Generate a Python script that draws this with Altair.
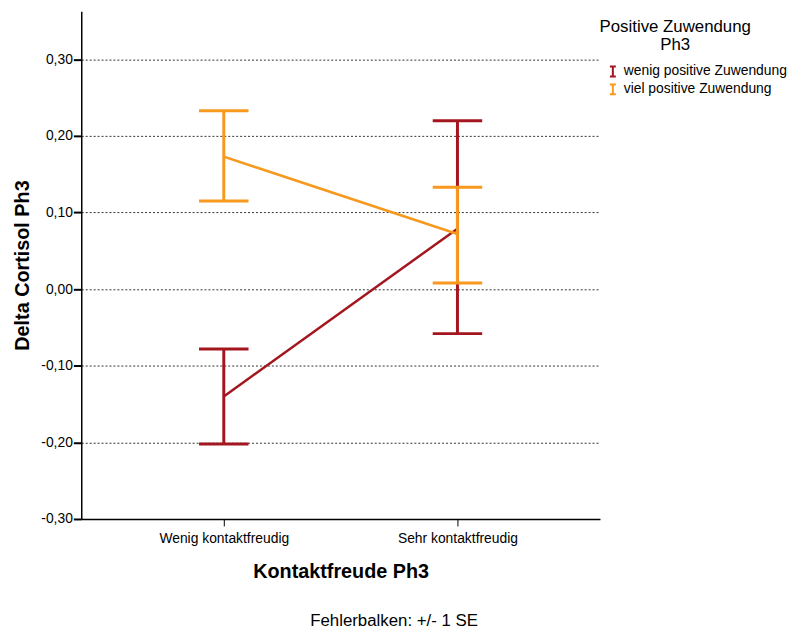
import altair as alt
import pandas as pd

categories = ["Wenig kontaktfreudig", "Sehr kontaktfreudig"]
groups = ["wenig positive Zuwendung", "viel positive Zuwendung"]
mean_wenig = [-0.140, 0.079]
lower_wenig = [-0.202, -0.058]
upper_wenig = [-0.078, 0.220]
mean_viel = [0.173, 0.072]
lower_viel = [0.115, 0.008]
upper_viel = [0.233, 0.133]
y_ticks = [-0.3, -0.2, -0.1, 0.0, 0.1, 0.2, 0.3]
colors = ["#A3161F", "#F7991D"]
legend_title = ["Positive Zuwendung", "Ph3"]

rows = []
for g, m, lo, up in [(groups[0], mean_wenig, lower_wenig, upper_wenig),
                     (groups[1], mean_viel, lower_viel, upper_viel)]:
    for i, c in enumerate(categories):
        rows.append({"Kontaktfreude": c, "Gruppe": g, "mean": m[i], "lower": lo[i], "upper": up[i],
                     "order": groups.index(g)})
df = pd.DataFrame(rows)

FONT = "Liberation Sans"

x_enc = alt.X("Kontaktfreude:N", sort=categories,
              scale=alt.Scale(type="point", padding=0.61),
              axis=alt.Axis(title="Kontaktfreude Ph3", labelAngle=0, labelFontSize=14,
                            labelPadding=6, tickSize=7, tickWidth=1, tickColor="black",
                            domainColor="black", domainWidth=1.5, titleFontSize=20,
                            titleFontWeight="bold", titlePadding=16, grid=False,
                            labelColor="black", titleColor="black"))

y_scale = alt.Scale(domain=[-0.3, 0.363], nice=False, zero=False)
y_axis = alt.Axis(title="Delta Cortisol Ph3", values=y_ticks,
                  labelExpr="replace(replace(format(datum.value, '.2f'), '.', ','), '\u2212', '-')",
                  labelFontSize=14, labelPadding=1, tickSize=8, tickWidth=2, tickColor="black",
                  domainColor="black", domainWidth=1.5, titleFontSize=20, titleFontWeight="bold",
                  titlePadding=8, grid=True, gridDash=[2, 2], gridColor="#333333", gridWidth=1,
                  labelColor="black", titleColor="black")

color_scale = alt.Scale(domain=groups, range=colors)

base = alt.Chart(df)

lines = base.mark_line(strokeWidth=2.5).encode(
    x=x_enc,
    y=alt.Y("mean:Q", scale=y_scale, axis=y_axis),
    color=alt.Color("Gruppe:N", scale=color_scale, sort=groups,
                    legend=alt.Legend(title=None, orient="none",
                                      legendX=530, legendY=54,
                                      labelFontSize=14, labelColor="black",
                                      labelLimit=300, rowPadding=0,
                                      symbolType="M-0.6,-1H0.6M0,-1V1M-0.6,1H0.6",
                                      symbolSize=100, symbolStrokeWidth=2)),
    order="order:Q",
)

rules = base.mark_rule(strokeWidth=3, opacity=1).encode(
    x=alt.X("Kontaktfreude:N", sort=categories),
    y=alt.Y("lower:Q", scale=y_scale),
    y2="upper:Q",
    color=alt.Color("Gruppe:N", scale=color_scale, legend=None),
)

caps_low = base.mark_tick(size=50, thickness=3, opacity=1).encode(
    x=alt.X("Kontaktfreude:N", sort=categories),
    y=alt.Y("lower:Q", scale=y_scale),
    color=alt.Color("Gruppe:N", scale=color_scale, legend=None),
)
caps_up = base.mark_tick(size=50, thickness=3, opacity=1).encode(
    x=alt.X("Kontaktfreude:N", sort=categories),
    y=alt.Y("upper:Q", scale=y_scale),
    color=alt.Color("Gruppe:N", scale=color_scale, legend=None),
)

legend_title_mark = alt.Chart(pd.DataFrame({"t": [0]})).mark_text(
    fontSize=17, align="center", baseline="top", lineHeight=18, color="black", font=FONT
).encode(
    x=alt.value(600), y=alt.value(8), text=alt.value(legend_title)
)

chart = alt.layer(lines, rules, caps_low, caps_up, legend_title_mark).properties(
    width=524, height=513,
    autosize=alt.AutoSizeParams(type="none"),
    padding={"left": 74, "top": 0, "right": 197, "bottom": 111},
    title=alt.TitleParams("Fehlerbalken: +/- 1 SE", orient="bottom", anchor="middle",
                          fontSize=17, fontWeight="normal", dx=54, offset=32, color="black"),
).configure(font=FONT).configure_view(stroke=None)

chart.save("out.html", embed_options={"renderer": "svg", "actions": False})
